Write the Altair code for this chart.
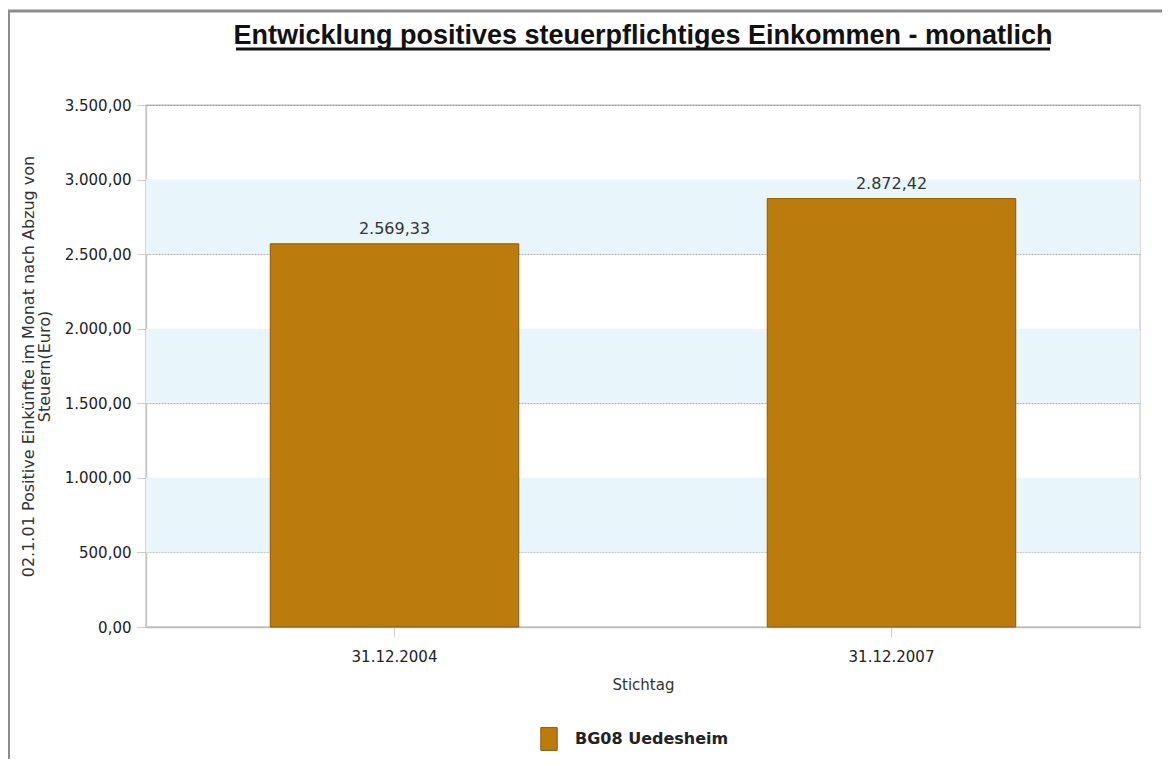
import altair as alt
import pandas as pd

categories = ["31.12.2004", "31.12.2007"]
values = [2569.33, 2872.42]
series = ["BG08 Uedesheim", "BG08 Uedesheim"]
band_start = [500, 1500, 2500]
band_end = [1000, 2000, 3000]

df = pd.DataFrame({"Stichtag": categories, "Wert": values, "Serie": series})
bands = pd.DataFrame({"y0": band_start, "y1": band_end})

W, H = 994, 522
FONT = "DejaVu Sans"

yscale = alt.Scale(domain=[0, 3500], nice=False)
xscale = alt.Scale(paddingInner=0.5, paddingOuter=0.25)

band_layer = alt.Chart(bands).mark_rect(color="#E8F5FA").encode(
    y=alt.Y("y0:Q", scale=yscale),
    y2="y1:Q",
    x=alt.value(0),
    x2=alt.value(W),
)

bars = alt.Chart(df).mark_bar(stroke="#8A5A06", strokeWidth=1).encode(
    x=alt.X(
        "Stichtag:N",
        scale=xscale,
        sort=categories,
        axis=alt.Axis(
            title="Stichtag",
            labelAngle=0,
            labelFont=FONT,
            labelFontSize=15,
            labelColor="#222",
            labelPadding=13,
            titleFont=FONT,
            titleFontSize=15,
            titleFontWeight="normal",
            titleColor="#333",
            titlePadding=13,
            tickColor="#999",
            tickDash=[1, 1],
            tickSize=9,
            domainColor="#bbb",
            domainWidth=1.5,
            grid=False,
        ),
    ),
    y=alt.Y(
        "Wert:Q",
        scale=yscale,
        axis=alt.Axis(
            title=["02.1.01 Positive Einkünfte im Monat nach Abzug von", "Steuern(Euro)"],
            values=[0, 500, 1000, 1500, 2000, 2500, 3000, 3500],
            format=",.2f",
            labelFont=FONT,
            labelFontSize=15,
            labelColor="#222",
            labelPadding=6,
            titleFont=FONT,
            titleFontSize=16,
            titleFontWeight="normal",
            titleColor="#333",
            titlePadding=12,
            titleLineHeight=16,
            tickColor="#999",
            tickDash=[1, 1],
            tickSize=9,
            domainColor="#c8c8c8",
            domainWidth=1.5,
            gridColor="#9a9a9a",
            gridDash=[2, 1],
            gridWidth=1,
        ),
    ),
    color=alt.Color(
        "Serie:N",
        scale=alt.Scale(range=["#BB7C0D"]),
        legend=alt.Legend(
            title=None,
            orient="none",
            legendX=391,
            legendY=622,
            symbolType="M-0.72,-1L0.72,-1L0.72,1L-0.72,1Z",
            symbolSize=520,
            symbolStrokeColor="#8A5A06",
            symbolStrokeWidth=1,
            symbolOpacity=1,
            labelFont=FONT,
            labelFontSize=16,
            labelFontWeight="bold",
            labelColor="#222",
            labelOffset=14,
        ),
    ),
)

labels = alt.Chart(df).mark_text(
    dy=-7, baseline="bottom", font=FONT, fontSize=16, color="#333"
).encode(
    x=alt.X("Stichtag:N", scale=xscale, sort=categories),
    y=alt.Y("Wert:Q", scale=yscale),
    text=alt.Text("Wert:Q", format=",.2f"),
)

title_df = pd.DataFrame({"t": ["Entwicklung positives steuerpflichtiges Einkommen - monatlich"]})
title = alt.Chart(title_df).mark_text(
    font="Liberation Sans",
    fontSize=27,
    fontWeight="bold",
    color="#111",
    baseline="alphabetic",
    align="center",
).encode(text="t:N", x=alt.value(W / 2), y=alt.value(-61))

underline = alt.Chart(title_df).mark_rule(color="#111", strokeWidth=3).encode(
    x=alt.value(90), x2=alt.value(904), y=alt.value(-56)
)

frame_top = alt.Chart(title_df).mark_rule(color="#8c8c8c", strokeWidth=3).encode(
    x=alt.value(-138), x2=alt.value(W + 22), y=alt.value(-94)
)
frame_left = alt.Chart(title_df).mark_rule(color="#8c8c8c", strokeWidth=2).encode(
    x=alt.value(-137), y=alt.value(-94), y2=alt.value(H + 132)
)

chart = (
    alt.layer(band_layer, bars, labels, title, underline, frame_top, frame_left)
    .properties(
        width=W,
        height=H,
        padding={"left": 138, "top": 97, "right": 22, "bottom": 132},
        autosize=alt.AutoSizeParams(type="none"),
    )
    .configure(
        locale={
            "number": {
                "decimal": ",",
                "thousands": ".",
                "grouping": [3],
                "currency": ["", " €"],
            }
        }
    )
    .configure_view(stroke="#d0d0d0", strokeWidth=1.5)
)

chart.save("out.html", embed_options={"renderer": "svg", "actions": False})
